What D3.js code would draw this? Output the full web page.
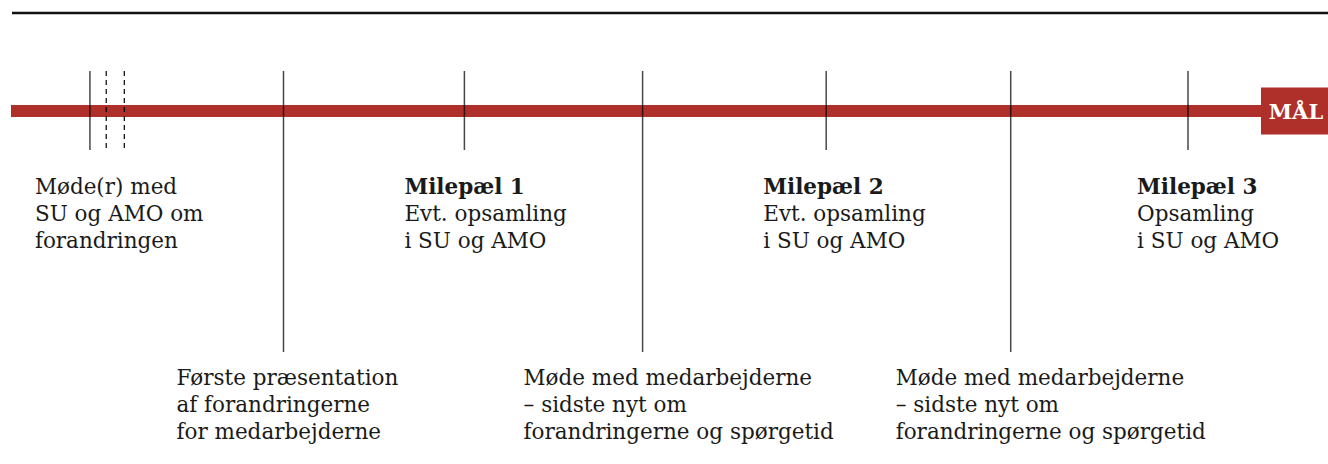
<!DOCTYPE html>
<html>
<head>
<meta charset="utf-8">
<script src="https://cdn.jsdelivr.net/npm/d3@7"></script>
<style>
  body { margin: 0; background: #fff; }
  svg text { font-family: "DejaVu Serif", serif; fill: #1a1a1a; }
</style>
</head>
<body>
<div id="chart"></div>
<script>
// Timeline events (t = step along the timeline)
const solidTicks = [-0.07, 1, 2, 2.985, 4, 5.02, 6];
const dashedTicks = [0.02, 0.12];
const longTicks = [1, 2.985, 5.02];   // events whose label hangs below

const upperLabels = [
  { t: -0.07, title: null, lines: ["Møde(r) med", "SU og AMO om", "forandringen"] },
  { t: 2, title: "Milepæl 1", lines: ["Evt. opsamling", "i SU og AMO"] },
  { t: 4, title: "Milepæl 2", lines: ["Evt. opsamling", "i SU og AMO"] },
  { t: 6, title: "Milepæl 3", lines: ["Opsamling", "i SU og AMO"] }
];
const lowerLabels = [
  { t: 1, lines: ["Første præsentation", "af forandringerne", "for medarbejderne"] },
  { t: 2.985, lines: ["Møde med medarbejderne", "– sidste nyt om", "forandringerne og spørgetid"] },
  { t: 5.02, lines: ["Møde med medarbejderne", "– sidste nyt om", "forandringerne og spørgetid"] }
];
const goalLabel = "MÅL";

// layout: label start offsets from their tick (px)
const upperDx = [-55, -60, -63, -51];
const lowerDx = [-107, -119, -115];

const width = 1328, height = 464;
const red = "#af2f2a";

const svg = d3.select("#chart").append("svg")
  .attr("width", width)
  .attr("height", height);

const x = d3.scaleLinear().domain([1, 6]).range([283.5, 1188]);

// top rule
svg.append("line")
  .attr("x1", 12).attr("x2", width)
  .attr("y1", 13).attr("y2", 13)
  .attr("stroke", "#111").attr("stroke-width", 2.5);

// red timeline bar
svg.append("rect")
  .attr("x", 11).attr("y", 105)
  .attr("width", 1262 - 11).attr("height", 12)
  .attr("fill", red);

// goal box
svg.append("rect")
  .attr("x", 1261).attr("y", 87.5)
  .attr("width", width - 1261).attr("height", 47)
  .attr("fill", red);
svg.append("text")
  .attr("x", 1296).attr("y", 118.5)
  .attr("text-anchor", "middle")
  .style("fill", "#fff")
  .style("font-weight", "bold")
  .style("font-size", "21px")
  .text(goalLabel);

// tick lines
svg.selectAll("line.solid")
  .data(solidTicks)
  .enter().append("line")
  .attr("class", "solid")
  .attr("x1", d => x(d)).attr("x2", d => x(d))
  .attr("y1", 71)
  .attr("y2", d => longTicks.includes(d) ? 352 : 150)
  .attr("stroke", "#000")
  .attr("stroke-opacity", 0.72)
  .attr("stroke-width", 1.5);

svg.selectAll("line.dashed")
  .data(dashedTicks)
  .enter().append("line")
  .attr("class", "dashed")
  .attr("x1", d => x(d)).attr("x2", d => x(d))
  .attr("y1", 71).attr("y2", 150)
  .attr("stroke", "#000")
  .attr("stroke-width", 1.2)
  .attr("stroke-dasharray", "5,4");

// labels
const lineH = 27;
const fontSize = "21.5px";

svg.selectAll("text.upper")
  .data(upperLabels)
  .enter().append("text")
  .attr("class", "upper")
  .attr("x", (d, i) => x(d.t) + upperDx[i])
  .attr("y", 194)
  .style("font-size", fontSize)
  .each(function(d) {
    const el = d3.select(this);
    const xPos = el.attr("x");
    const rows = d.title ? [d.title].concat(d.lines) : d.lines;
    rows.forEach((r, k) => {
      el.append("tspan")
        .attr("x", xPos)
        .attr("dy", k === 0 ? 0 : lineH)
        .style("font-weight", d.title && k === 0 ? "bold" : "normal")
        .text(r);
    });
  });

svg.selectAll("text.lower")
  .data(lowerLabels)
  .enter().append("text")
  .attr("class", "lower")
  .attr("x", (d, i) => x(d.t) + lowerDx[i])
  .attr("y", 385)
  .style("font-size", fontSize)
  .each(function(d) {
    const el = d3.select(this);
    const xPos = el.attr("x");
    d.lines.forEach((r, k) => {
      el.append("tspan")
        .attr("x", xPos)
        .attr("dy", k === 0 ? 0 : lineH)
        .text(r);
    });
  });
</script>
</body>
</html>
